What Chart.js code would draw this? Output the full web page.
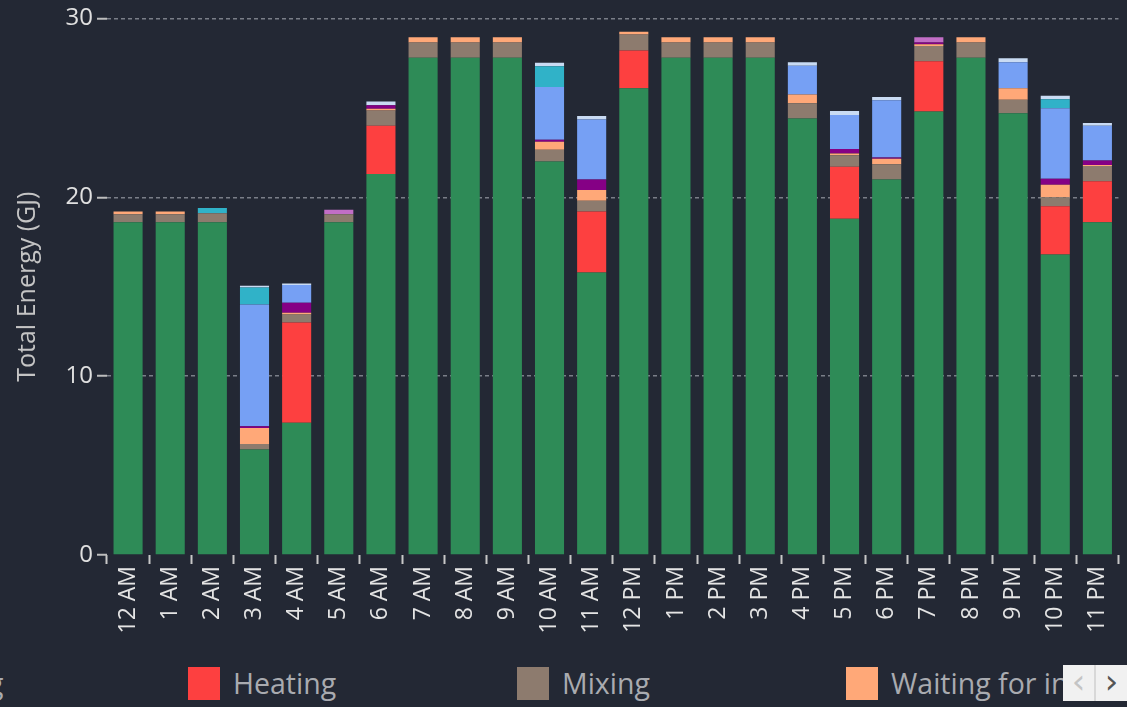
<!DOCTYPE html>
<html>
<head>
<meta charset="utf-8">
<script src="https://cdn.jsdelivr.net/npm/chart.js@4.4.1/dist/chart.umd.min.js"></script>
<style>
    html, body { margin: 0; padding: 0; background: #232834; overflow: hidden; }
    #wrap { position: relative; width: 1127px; height: 707px; }
    #chart { position: absolute; left: 0; top: 0; }
    #legend { position: absolute; left: 0; top: 663px; width: 1127px; height: 44px; overflow: hidden; font-family: "Open Sans", sans-serif; }
    .item { position: absolute; top: 0; height: 40px; white-space: nowrap; }
    .box { position: absolute; left: 0; top: 4px; width: 32px; height: 33px; }
    .lbl { position: absolute; left: 45px; top: 1px; font-size: 28.5px; line-height: 38px; color: #a9abb0; }
    #nav { position: absolute; left: 1063px; top: 2px; width: 64px; height: 36px; background: #f1f1f1; display: flex; }
    #nav div { flex: 1; text-align: center; font-size: 34px; line-height: 32px; font-family: "DejaVu Sans", sans-serif; }
    #nav div + div { border-left: 2px solid #d8d8d8; }
</style>
</head>
<body>
<div id="wrap">
    <canvas id="chart" width="1127" height="655"></canvas>
    <div id="legend"></div>
</div>
<script>
const hours = ['12 AM', '1 AM', '2 AM', '3 AM', '4 AM', '5 AM', '6 AM', '7 AM', '8 AM', '9 AM', '10 AM', '11 AM',
    '12 PM', '1 PM', '2 PM', '3 PM', '4 PM', '5 PM', '6 PM', '7 PM', '8 PM', '9 PM', '10 PM', '11 PM'];

// energy per activity (GJ), bottom of the stack first
const cooling  = [18.6, 18.6, 18.6, 5.9, 7.4, 18.6, 21.3, 27.8, 27.8, 27.8, 22.0, 15.8, 26.1, 27.8, 27.8, 27.8, 24.4, 18.8, 21.0, 24.8, 27.8, 24.7, 16.8, 18.6];
const heating  = [0, 0, 0, 0, 5.6, 0, 2.7, 0, 0, 0, 0, 3.4, 2.1, 0, 0, 0, 0, 2.9, 0, 2.8, 0, 0, 2.7, 2.3];
const mixing   = [0.45, 0.45, 0.5, 0.3, 0.45, 0.45, 0.85, 0.85, 0.85, 0.85, 0.65, 0.6, 0.9, 0.85, 0.85, 0.85, 0.85, 0.65, 0.85, 0.85, 0.85, 0.75, 0.5, 0.85];
const waiting  = [0.15, 0.15, 0, 0.9, 0.1, 0, 0.1, 0.3, 0.3, 0.3, 0.45, 0.6, 0.15, 0.3, 0.3, 0.3, 0.5, 0.1, 0.3, 0.1, 0.3, 0.65, 0.7, 0.05];
const cleaning = [0, 0, 0, 0.1, 0.55, 0, 0.2, 0, 0, 0, 0.12, 0.6, 0, 0, 0, 0, 0, 0.25, 0.08, 0.1, 0, 0, 0.33, 0.25];
const idle     = [0, 0, 0, 6.8, 1.0, 0, 0, 0, 0, 0, 2.95, 3.35, 0, 0, 0, 0, 1.6, 1.9, 3.2, 0, 0, 1.45, 3.95, 1.95];
const transfer = [0, 0, 0.3, 0.95, 0, 0, 0, 0, 0, 0, 1.15, 0, 0, 0, 0, 0, 0, 0, 0, 0, 0, 0, 0.5, 0];
const setup    = [0, 0, 0, 0, 0, 0.25, 0, 0, 0, 0, 0, 0, 0, 0, 0, 0, 0, 0, 0, 0.3, 0, 0, 0, 0];
const other    = [0, 0, 0, 0.1, 0.08, 0, 0.2, 0, 0, 0, 0.2, 0.2, 0, 0, 0, 0, 0.2, 0.22, 0.17, 0, 0, 0.22, 0.2, 0.15];

const seriesNames  = ['Cooling', 'Heating', 'Mixing', 'Waiting for ingredients', 'Cleaning', 'Idle', 'Transfer', 'Setup', 'Other'];
const seriesValues = [cooling, heating, mixing, waiting, cleaning, idle, transfer, setup, other];
const seriesColors = ['#2e8b57', '#fd4040', '#8d7b6e', '#ffa878', '#850085', '#76a0f4', '#30b2c8', '#c26ec6', '#c9dbf3'];

const yTicks = [0, 10, 20, 30];

const datasets = seriesNames.map((name, i) => ({
    label: name,
    data: seriesValues[i],
    backgroundColor: seriesColors[i],
    borderWidth: 0,
    categoryPercentage: 1,
    barPercentage: 0.69
}));

new Chart(document.getElementById('chart').getContext('2d'), {
    type: 'bar',
    data: { labels: hours, datasets: datasets },
    options: {
        responsive: false,
        animation: false,
        devicePixelRatio: 1,
        layout: { padding: { top: 17, right: 0, left: 0, bottom: 0 } },
        plugins: { legend: { display: false }, tooltip: { enabled: false } },
        scales: {
            x: {
                stacked: true,
                border: { display: false },
                grid: { drawOnChartArea: false, color: '#c8c8c8', tickColor: '#c8c8c8', tickLength: 9, tickWidth: 2 },
                ticks: {
                    color: '#e4e4e4',
                    font: { family: 'Open Sans', size: 23 },
                    minRotation: 90,
                    maxRotation: 90,
                    padding: 2,
                    autoSkip: false
                },
                afterFit: (scale) => { scale.height = 100; }
            },
            y: {
                stacked: true,
                min: 0,
                max: 30,
                // v4 takes the grid line dash from border.dash
                border: { display: false, dash: [4, 3] },
                afterBuildTicks: (scale) => { scale.ticks = yTicks.map(v => ({ value: v })); },
                grid: {
                    color: (ctx) => ctx.tick && ctx.tick.value === 0 ? 'rgba(0,0,0,0)' : '#7a7e88',
                    lineWidth: 1.5,
                    tickColor: '#bdbdbd',
                    tickLength: 10,
                    tickWidth: 2,
                    tickBorderDash: []
                },
                ticks: {
                    color: '#e0e0e0',
                    font: { family: 'Open Sans', size: 24 },
                    padding: 4
                },
                title: {
                    display: true,
                    text: 'Total Energy (GJ)',
                    color: '#c4c4c4',
                    font: { family: 'Open Sans', size: 25 },
                    padding: { top: 13, bottom: 0 }
                },
                afterFit: (scale) => { scale.width = 107; }
            }
        }
    }
});

// legend strip, scrolled so that it starts with the tail of the first entry
const legend = document.getElementById('legend');
seriesNames.forEach((name, i) => {
    const item = document.createElement('div');
    item.className = 'item';
    item.style.left = (188 + (i - 1) * 329) + 'px';
    item.innerHTML = '<div class="box" style="background:' + seriesColors[i] + '"></div><div class="lbl">' + name + '</div>';
    legend.appendChild(item);
});
const nav = document.createElement('div');
nav.id = 'nav';
nav.innerHTML = '<div style="color:#c4c4c4">&lsaquo;</div><div style="color:#555">&rsaquo;</div>';
legend.appendChild(nav);
</script>
</body>
</html>
